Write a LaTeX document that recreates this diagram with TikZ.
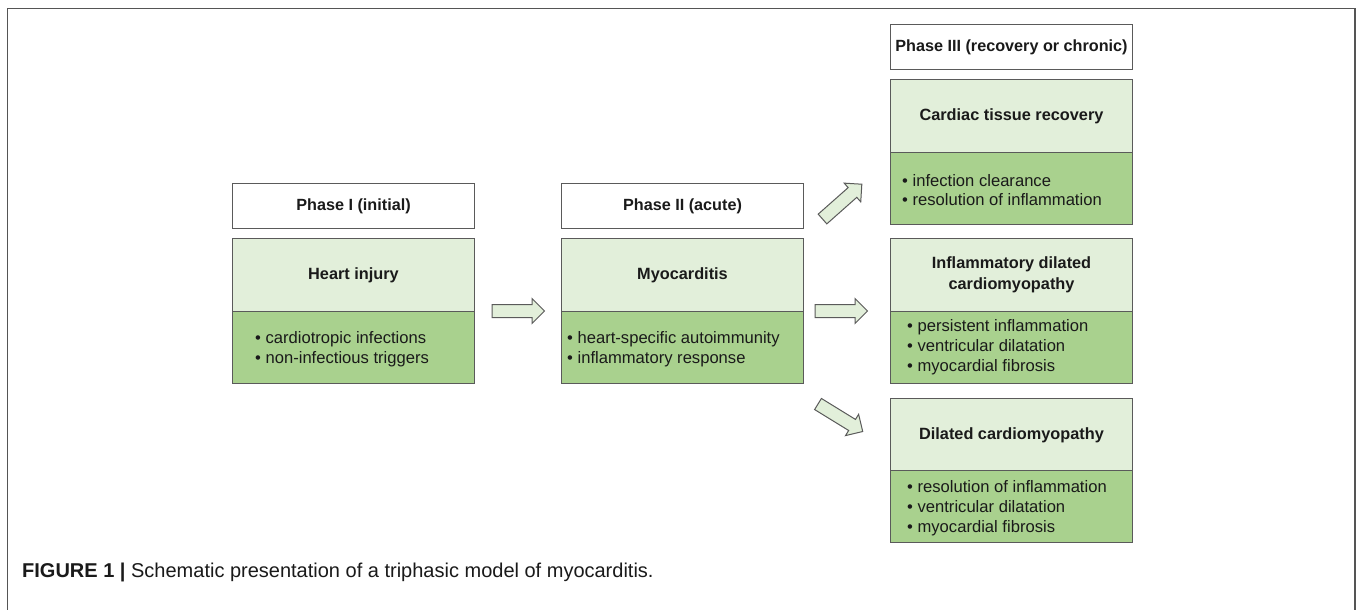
\documentclass[tikz,border=0pt]{standalone}
\usepackage{fontspec}
\setmainfont{Liberation Sans}
\definecolor{lightg}{HTML}{E2EFDA}
\definecolor{darkg}{HTML}{A9D18E}
\definecolor{bordergray}{HTML}{5A5A5A}
\definecolor{framegray}{HTML}{555555}
\definecolor{txt}{HTML}{1A1A1A}
\begin{document}
\begin{tikzpicture}[x=1pt,y=-1pt,
  box/.style={draw=bordergray, line width=1pt, inner sep=0pt, anchor=north west, minimum width=242pt},
  hdr/.style={box, fill=white, minimum height=45pt, text=txt, font=\bfseries\fontsize{16.2}{19.5}\selectfont, align=center},
  upper/.style={box, fill=lightg, minimum height=73pt, text=txt, font=\bfseries\fontsize{16.3}{20.5}\selectfont, align=center},
  lower/.style={box, fill=darkg, minimum height=72pt},
  lst/.style={font=\fontsize{16.6}{19.8}\selectfont, text=txt, align=left, anchor=west, inner sep=0pt},
  barrow/.style={fill=lightg, draw=bordergray, line width=1pt, line join=miter}]
\useasboundingbox (0,0) rectangle (1357,610);
\fill[white] (0,0) rectangle (1357,610);
\draw[framegray, line width=1.5pt] (7.5,610) -- (7.5,8.5) -- (1355,8.5) -- (1355,610);

% Phase I
\node[hdr] (h1) at (232,183) {Phase I (initial)};
\node[upper] (t1) at (232,238) {Heart injury};
\node[lower] (b1) at (232,311) {};
\node[lst] (l1) at (255,349) {• cardiotropic infections\\• non-infectious triggers};

% Phase II
\node[hdr] (h2) at (561,183) {Phase II (acute)};
\node[upper] (t2) at (561,238) {Myocarditis};
\node[lower] (b2) at (561,311) {};
\node[lst] (l2) at (567,349) {• heart-specific autoimmunity\\• inflammatory response};

% Phase III
\node[hdr] (h3) at (890,24) {Phase III (recovery or chronic)};
\node[upper] (t3) at (890,79) {Cardiac tissue recovery};
\node[lower] (b3) at (890,152) {};
\node[lst] (l3) at (902,190) {• infection clearance\\• resolution of inflammation};

\node[upper] (t4) at (890,238) {Inflammatory dilated\\cardiomyopathy};
\node[lower] (b4) at (890,311) {};
\node[lst] (l4) at (907,347) {• persistent inflammation\\• ventricular dilatation\\• myocardial fibrosis};

\node[upper] (t5) at (890,398) {Dilated cardiomyopathy};
\node[lower] (b5) at (890,470) {};
\node[lst] (l5) at (907,508) {• resolution of inflammation\\• ventricular dilatation\\• myocardial fibrosis};

% block arrows
\foreach \px/\py/\ang in {492/311/0, 815/311/0, 822.5/219/41.5, 818/404/-31.6}{
  \begin{scope}[shift={(\px,\py)}, rotate=\ang]
    \draw[barrow] (0,-6.5) -- (40,-6.5) -- (40,-12.5) -- (52.5,0) -- (40,12.5) -- (40,6.5) -- (0,6.5) -- cycle;
  \end{scope}
}

% caption
\node[anchor=base west, inner sep=0pt, text=txt, font=\fontsize{20}{23}\selectfont] (cap) at (22,577) {\textbf{FIGURE 1 |} Schematic presentation of a triphasic model of myocarditis.};
\end{tikzpicture}
\end{document}
